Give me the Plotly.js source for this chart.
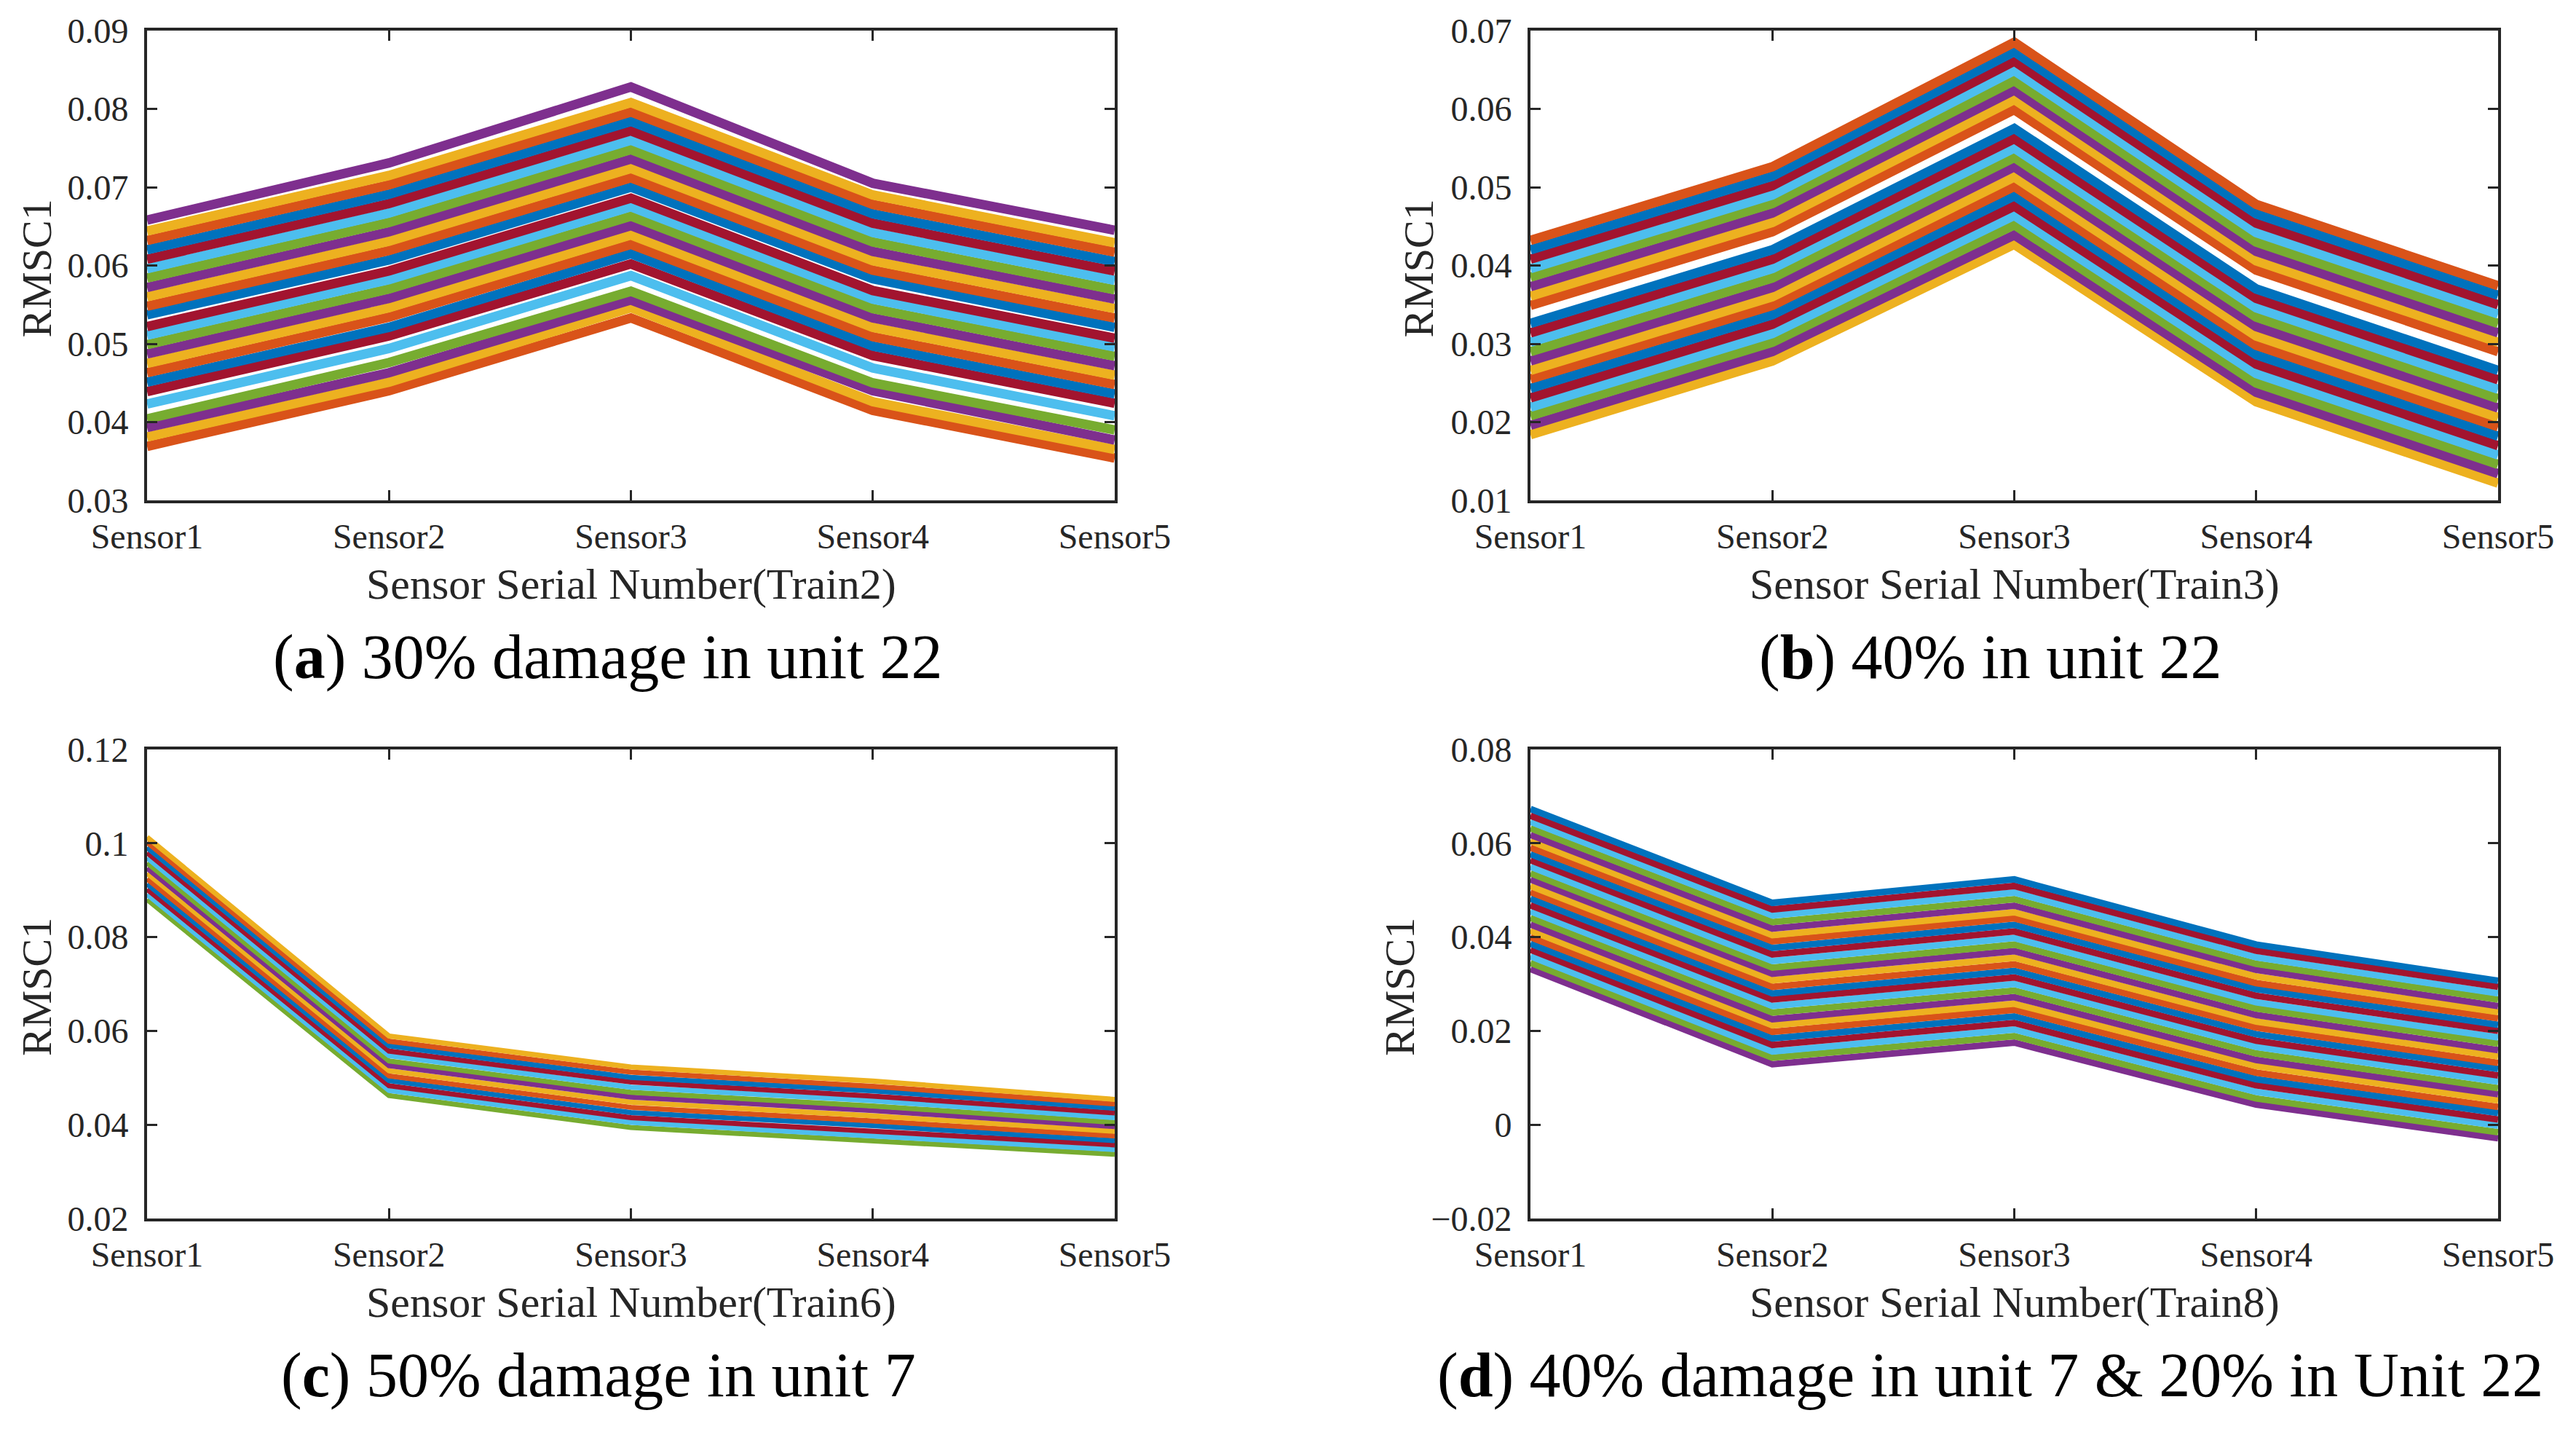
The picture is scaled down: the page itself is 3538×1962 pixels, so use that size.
<!DOCTYPE html>
<html>
<head>
<meta charset="utf-8">
<script src="https://cdn.plot.ly/plotly-3.0.1.min.js"></script>
<style>
html,body{margin:0;padding:0;background:#fff;}
#chart{width:3538px;height:1962px;}
</style>
</head>
<body>
<div id="chart"></div>
<script>
// ---------------- data ----------------
const sensors = ['Sensor1', 'Sensor2', 'Sensor3', 'Sensor4', 'Sensor5'];

// (a) Train2 : RMSC1 per sample line, values at Sensor1..Sensor5
const linesA = [
  [0.0369, 0.0440, 0.0533, 0.0415, 0.0354],
  [0.0381, 0.0451, 0.0546, 0.0426, 0.0365],
  [0.0393, 0.0463, 0.0556, 0.0440, 0.0377],
  [0.0404, 0.0476, 0.0567, 0.0450, 0.0390],
  [0.0423, 0.0494, 0.0587, 0.0469, 0.0408],
  [0.0439, 0.0510, 0.0602, 0.0485, 0.0424],
  [0.0451, 0.0521, 0.0615, 0.0497, 0.0436],
  [0.0463, 0.0534, 0.0627, 0.0509, 0.0448],
  [0.0475, 0.0546, 0.0639, 0.0521, 0.0460],
  [0.0487, 0.0558, 0.0651, 0.0533, 0.0472],
  [0.0499, 0.0570, 0.0663, 0.0545, 0.0484],
  [0.0511, 0.0582, 0.0675, 0.0557, 0.0496],
  [0.0522, 0.0593, 0.0686, 0.0568, 0.0507],
  [0.0537, 0.0607, 0.0700, 0.0583, 0.0521],
  [0.0548, 0.0619, 0.0712, 0.0594, 0.0533],
  [0.0560, 0.0631, 0.0724, 0.0606, 0.0545],
  [0.0572, 0.0643, 0.0736, 0.0618, 0.0557],
  [0.0584, 0.0655, 0.0748, 0.0630, 0.0569],
  [0.0596, 0.0667, 0.0760, 0.0642, 0.0581],
  [0.0608, 0.0679, 0.0772, 0.0654, 0.0593],
  [0.0620, 0.0691, 0.0784, 0.0666, 0.0605],
  [0.0632, 0.0703, 0.0796, 0.0678, 0.0617],
  [0.0644, 0.0715, 0.0808, 0.0690, 0.0629],
  [0.0658, 0.0731, 0.0828, 0.0705, 0.0645]
];

// (b) Train3
const linesB = [
  [0.0184, 0.0278, 0.0427, 0.0226, 0.0122],
  [0.0196, 0.0290, 0.0439, 0.0238, 0.0134],
  [0.0208, 0.0302, 0.0452, 0.0250, 0.0146],
  [0.0219, 0.0313, 0.0464, 0.0262, 0.0158],
  [0.0231, 0.0325, 0.0476, 0.0274, 0.0170],
  [0.0243, 0.0337, 0.0489, 0.0286, 0.0182],
  [0.0255, 0.0349, 0.0501, 0.0298, 0.0194],
  [0.0266, 0.0360, 0.0513, 0.0310, 0.0206],
  [0.0278, 0.0372, 0.0526, 0.0322, 0.0218],
  [0.0290, 0.0384, 0.0538, 0.0334, 0.0230],
  [0.0302, 0.0396, 0.0550, 0.0346, 0.0242],
  [0.0314, 0.0408, 0.0562, 0.0358, 0.0254],
  [0.0326, 0.0420, 0.0575, 0.0370, 0.0266],
  [0.0349, 0.0443, 0.0599, 0.0394, 0.0290],
  [0.0361, 0.0455, 0.0612, 0.0406, 0.0302],
  [0.0373, 0.0467, 0.0624, 0.0418, 0.0314],
  [0.0385, 0.0479, 0.0636, 0.0430, 0.0326],
  [0.0396, 0.0490, 0.0649, 0.0442, 0.0338],
  [0.0408, 0.0502, 0.0661, 0.0454, 0.0350],
  [0.0420, 0.0514, 0.0673, 0.0466, 0.0362],
  [0.0432, 0.0526, 0.0685, 0.0478, 0.0374]
];

// (c) Train6
const linesC = [
  [0.0880, 0.0462, 0.0394, 0.0366, 0.0337],
  [0.0891, 0.0473, 0.0405, 0.0377, 0.0347],
  [0.0902, 0.0483, 0.0415, 0.0387, 0.0357],
  [0.0913, 0.0494, 0.0426, 0.0398, 0.0366],
  [0.0924, 0.0504, 0.0437, 0.0408, 0.0376],
  [0.0936, 0.0515, 0.0448, 0.0419, 0.0386],
  [0.0947, 0.0526, 0.0459, 0.0430, 0.0396],
  [0.0958, 0.0536, 0.0469, 0.0440, 0.0405],
  [0.0969, 0.0547, 0.0480, 0.0451, 0.0415],
  [0.0980, 0.0557, 0.0491, 0.0461, 0.0425],
  [0.0991, 0.0568, 0.0501, 0.0472, 0.0435],
  [0.1002, 0.0578, 0.0512, 0.0482, 0.0444],
  [0.1013, 0.0589, 0.0523, 0.0493, 0.0454]
];

// (d) Train8
const linesD = [
  [0.0332, 0.0129, 0.0175, 0.0043, -0.0029],
  [0.0345, 0.0143, 0.0189, 0.0056, -0.0016],
  [0.0359, 0.0156, 0.0203, 0.0070, -0.0002],
  [0.0373, 0.0170, 0.0217, 0.0084, 0.0011],
  [0.0386, 0.0184, 0.0231, 0.0097, 0.0025],
  [0.0400, 0.0198, 0.0245, 0.0111, 0.0038],
  [0.0414, 0.0212, 0.0258, 0.0125, 0.0052],
  [0.0427, 0.0225, 0.0272, 0.0138, 0.0065],
  [0.0441, 0.0239, 0.0286, 0.0152, 0.0078],
  [0.0455, 0.0253, 0.0300, 0.0166, 0.0092],
  [0.0468, 0.0267, 0.0314, 0.0179, 0.0105],
  [0.0482, 0.0280, 0.0328, 0.0193, 0.0119],
  [0.0496, 0.0294, 0.0342, 0.0207, 0.0132],
  [0.0509, 0.0308, 0.0356, 0.0220, 0.0146],
  [0.0523, 0.0322, 0.0370, 0.0234, 0.0159],
  [0.0536, 0.0335, 0.0384, 0.0248, 0.0173],
  [0.0550, 0.0349, 0.0398, 0.0261, 0.0186],
  [0.0564, 0.0363, 0.0412, 0.0275, 0.0200],
  [0.0577, 0.0377, 0.0426, 0.0289, 0.0213],
  [0.0591, 0.0391, 0.0440, 0.0302, 0.0227],
  [0.0605, 0.0404, 0.0453, 0.0316, 0.0240],
  [0.0618, 0.0418, 0.0467, 0.0330, 0.0253],
  [0.0632, 0.0432, 0.0481, 0.0343, 0.0267],
  [0.0646, 0.0446, 0.0495, 0.0357, 0.0280],
  [0.0659, 0.0459, 0.0509, 0.0371, 0.0294],
  [0.0673, 0.0473, 0.0523, 0.0384, 0.0307]
];

const yRangeA = [0.03, 0.09], yTickA = 0.01;
const yRangeB = [0.01, 0.07], yTickB = 0.01;
const yRangeC = [0.02, 0.12], yTickC = 0.02;
const yRangeD = [-0.02, 0.08], yTickD = 0.02;

const xTitles = ['Sensor Serial Number(Train2)', 'Sensor Serial Number(Train3)',
                 'Sensor Serial Number(Train6)', 'Sensor Serial Number(Train8)'];
const yTitle = 'RMSC1';
const captions = ['(<b>a</b>) 30% damage in unit 22', '(<b>b</b>) 40% in unit 22',
                  '(<b>c</b>) 50% damage in unit 7', '(<b>d</b>) 40% damage in unit 7 &amp; 20% in Unit 22'];

// ---------------- drawing ----------------
const W = 3538, H = 1962;
const SERIF = 'Liberation Serif';
const palette = ['#0072BD', '#D95319', '#EDB120', '#7E2F8E', '#77AC30', '#4DBEEE', '#A2142F'];
const px = x => x / W;
const py = y => 1 - y / H;

const panels = [
  {lines: linesA, w: 13, off: 1, x: [202, 1531], y: [42, 687], yr: yRangeA, dt: yTickA, ytx: 50},
  {lines: linesB, w: 13, off: 2, x: [2102, 3431], y: [42, 687], yr: yRangeB, dt: yTickB, ytx: 1948},
  {lines: linesC, w: 7, off: 4, x: [202, 1531], y: [1029, 1673], yr: yRangeC, dt: yTickC, ytx: 50},
  {lines: linesD, w: 9, off: 3, x: [2102, 3431], y: [1029, 1673], yr: yRangeD, dt: yTickD, ytx: 1922}
];
const capX = [835, 2733, 822, 2733];

const traces = [];
const layout = {
  width: W, height: H,
  margin: {l: 0, r: 0, t: 0, b: 0},
  paper_bgcolor: '#ffffff', plot_bgcolor: '#ffffff',
  font: {family: SERIF, size: 48, color: '#262626'},
  showlegend: false,
  annotations: []
};

panels.forEach((p, i) => {
  const n = i + 1;
  const xa = 'x' + (n === 1 ? '' : n), ya = 'y' + (n === 1 ? '' : n);
  p.lines.forEach((vals, j) => {
    traces.push({
      type: 'scatter', mode: 'lines', x: sensors, y: vals,
      xaxis: xa, yaxis: ya,
      line: {color: palette[(j + p.off) % 7], width: p.w},
      hoverinfo: 'skip'
    });
  });
  const common = {
    showline: true, mirror: 'ticks', linecolor: '#262626', linewidth: 4,
    ticks: 'inside', ticklen: 14, tickwidth: 3, tickcolor: '#262626',
    showgrid: false, zeroline: false, fixedrange: true,
    tickfont: {family: SERIF, size: 48, color: '#262626'}
  };
  layout['xaxis' + (n === 1 ? '' : n)] = Object.assign({}, common, {
    domain: [px(p.x[0]), px(p.x[1])], anchor: ya, type: 'category',
    range: [0, 4], ticklabelstandoff: 4
  });
  layout['yaxis' + (n === 1 ? '' : n)] = Object.assign({}, common, {
    domain: [py(p.y[1]), py(p.y[0])], anchor: xa,
    range: p.yr, dtick: p.dt, tick0: p.yr[0], ticklabelstandoff: 12
  });
  const cx = (p.x[0] + p.x[1]) / 2;
  layout.annotations.push({
    xref: 'paper', yref: 'paper', x: px(cx), y: py(p.y[1] + 115),
    xanchor: 'center', yanchor: 'middle', showarrow: false,
    text: xTitles[i], font: {family: SERIF, size: 60, color: '#262626'}
  });
  layout.annotations.push({
    xref: 'paper', yref: 'paper', x: px(p.ytx), y: py((p.y[0] + p.y[1]) / 2 + 4),
    xanchor: 'center', yanchor: 'middle', showarrow: false, textangle: -90,
    text: yTitle, font: {family: SERIF, size: 58, color: '#262626'}
  });
  layout.annotations.push({
    xref: 'paper', yref: 'paper', x: px(capX[i]), y: py(p.y[1] + 215),
    xanchor: 'center', yanchor: 'middle', showarrow: false,
    text: captions[i], font: {family: SERIF, size: 86, color: '#000000'}
  });
});

Plotly.newPlot('chart', traces, layout, {staticPlot: true, displayModeBar: false});
</script>
</body>
</html>
